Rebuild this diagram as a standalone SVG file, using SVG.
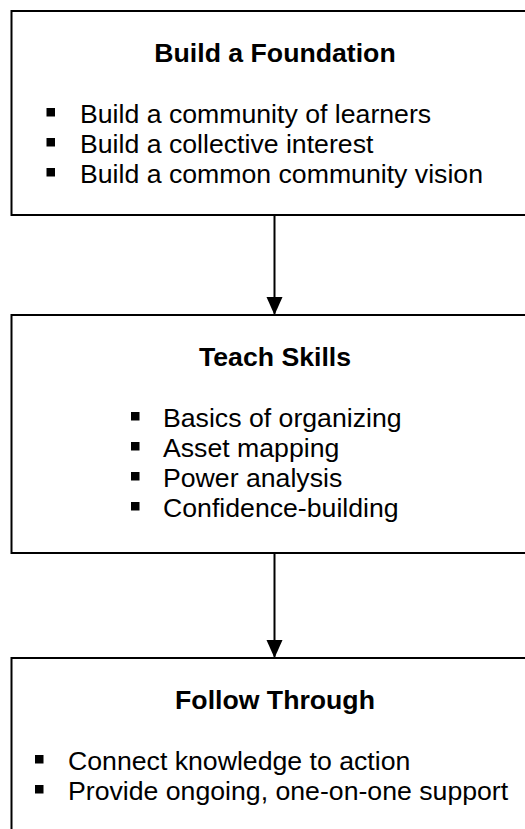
<svg xmlns="http://www.w3.org/2000/svg" width="525" height="829" viewBox="0 0 525 829">
<style>
.box{fill:#fff;stroke:#000;stroke-width:2}
.t{font-family:"Liberation Sans",Arial,sans-serif;font-size:26.67px;font-weight:bold;text-anchor:middle;fill:#000}
.b{font-family:"Liberation Sans",Arial,sans-serif;font-size:26.67px;fill:#000}
.sq{fill:#000}
.c{stroke:#000;stroke-width:2;fill:none}
</style>
<defs>
<marker id="ah" markerUnits="userSpaceOnUse" markerWidth="16" markerHeight="18" refX="18" refY="8" orient="auto">
<path d="M0,0 L18,8 L0,16 Z" fill="#000"/>
</marker>
</defs>
<rect width="525" height="829" fill="#fff"/>
<g id="connectors">
<line class="c" x1="274.5" y1="215" x2="274.5" y2="315" marker-end="url(#ah)"/>
<line class="c" x1="274.5" y1="553" x2="274.5" y2="658" marker-end="url(#ah)"/>
</g>
<g id="node1">
<rect class="box" x="11.5" y="11" width="600" height="204"/>
<text class="t" x="275" y="62">Build a Foundation</text>
<rect class="sq" x="46.5" y="108" width="8.5" height="8.5"/>
<text class="b" x="80" y="123">Build a community of learners</text>
<rect class="sq" x="46.5" y="138" width="8.5" height="8.5"/>
<text class="b" x="80" y="153">Build a collective interest</text>
<rect class="sq" x="46.5" y="168" width="8.5" height="8.5"/>
<text class="b" x="80" y="183">Build a common community vision</text>
</g>
<g id="node2">
<rect class="box" x="11.5" y="315" width="600" height="238"/>
<text class="t" x="275" y="366">Teach Skills</text>
<rect class="sq" x="131" y="412" width="8.5" height="8.5"/>
<text class="b" x="163" y="427">Basics of organizing</text>
<rect class="sq" x="131" y="442" width="8.5" height="8.5"/>
<text class="b" x="163" y="457">Asset mapping</text>
<rect class="sq" x="131" y="472" width="8.5" height="8.5"/>
<text class="b" x="163" y="487">Power analysis</text>
<rect class="sq" x="131" y="502" width="8.5" height="8.5"/>
<text class="b" x="163" y="517">Confidence-building</text>
</g>
<g id="node3">
<rect class="box" x="11.5" y="658" width="600" height="300"/>
<text class="t" x="275" y="709">Follow Through</text>
<rect class="sq" x="35" y="755" width="8.5" height="8.5"/>
<text class="b" x="68" y="770">Connect knowledge to action</text>
<rect class="sq" x="35" y="785" width="8.5" height="8.5"/>
<text class="b" x="68" y="800">Provide ongoing, one-on-one support</text>
</g>
</svg>
